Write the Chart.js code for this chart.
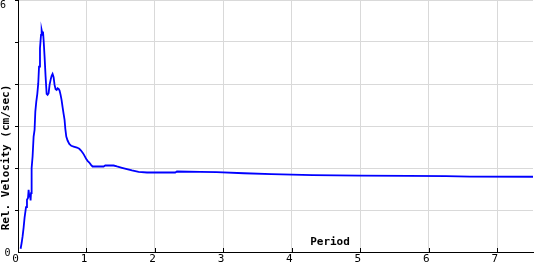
<!DOCTYPE html>
<html>
<head>
<meta charset="utf-8">
<script src="https://cdn.jsdelivr.net/npm/chart.js@4.4.1/dist/chart.umd.min.js"></script>
<style>
body { margin: 0; background: #fff; }
</style>
</head>
<body>
<canvas id="mycanvas" width="540" height="270"></canvas>
<script>
// period (sec) and relative velocity (cm/sec)
var period = [0.038, 0.053, 0.067, 0.082, 0.096, 0.117, 0.131, 0.146, 0.155, 0.165, 0.175, 0.184, 0.190,
	0.199, 0.213, 0.228, 0.242, 0.253, 0.267, 0.282, 0.296, 0.307, 0.321, 0.336, 0.345, 0.355, 0.365,
	0.374, 0.388, 0.403, 0.418, 0.432, 0.447, 0.461, 0.476, 0.491, 0.505, 0.520, 0.534, 0.549, 0.564,
	0.578, 0.593, 0.607, 0.622, 0.636, 0.651, 0.666, 0.680, 0.691, 0.705, 0.724, 0.749, 0.778, 0.812,
	0.861, 0.895, 0.920, 0.949, 0.972, 0.997, 1.016, 1.041, 1.066, 1.089, 1.250, 1.274, 1.396, 1.445,
	1.518, 1.591, 1.664, 1.761, 1.883, 2.296, 2.321, 2.661, 2.900, 3.300, 3.700, 4.300, 5.000, 5.700,
	6.250, 6.600, 7.520];
var velocity = [0.078, 0.214, 0.371, 0.578, 0.816, 1.070, 1.244, 1.284, 1.482, 1.322, 1.386, 1.227, 1.403,
	1.998, 2.273, 2.749, 2.908, 3.344, 3.581, 3.765, 4.019, 4.414, 4.851, 5.168, 5.287, 5.208, 5.246,
	5.049, 4.652, 4.176, 3.765, 3.741, 3.781, 3.979, 4.098, 4.193, 4.240, 4.162, 3.979, 3.876, 3.860,
	3.900, 3.884, 3.843, 3.741, 3.622, 3.448, 3.289, 3.146, 2.932, 2.749, 2.654, 2.575, 2.528, 2.511,
	2.487, 2.457, 2.416, 2.354, 2.290, 2.212, 2.171, 2.131, 2.076, 2.036, 2.036, 2.059, 2.059, 2.036,
	2.005, 1.974, 1.941, 1.910, 1.893, 1.893, 1.917, 1.910, 1.900, 1.875, 1.852, 1.828, 1.817, 1.812,
	1.805, 1.795, 1.792];
var xTicks = [0, 1, 2, 3, 4, 5, 6, 7];
var yTicks = [0, 1, 2, 3, 4, 5, 6];
var yLabels = [0, 6];

var points = [];
for (var i in period) {
	points.push({x: period[i], y: velocity[i]});
}

var monoFont = "'DejaVu Sans Mono', 'Liberation Mono', monospace";

// axis titles, tick labels and the short tick marks
var extras = {
	id: 'extras',
	afterDraw: function(chart) {
		var c = chart.ctx;
		var xs = chart.scales.x, ys = chart.scales.y;
		var area = chart.chartArea;
		c.save();
		c.strokeStyle = '#000';
		c.lineWidth = 1;
		c.beginPath();
		for (var k = 1; k < xTicks.length; k++) {
			var px = Math.round(xs.getPixelForValue(xTicks[k])) + 0.5;
			c.moveTo(px, area.bottom - 4);
			c.lineTo(px, area.bottom);
		}
		for (var v = 1; v < yTicks.length; v++) {
			var py = Math.round(ys.getPixelForValue(yTicks[v])) + 0.5;
			c.moveTo(area.left - 3, py);
			c.lineTo(area.left, py);
		}
		c.stroke();

		c.fillStyle = '#000';
		c.textAlign = 'center';
		c.textBaseline = 'middle';
		c.font = '11px ' + monoFont;
		for (var j = 0; j < xTicks.length; j++) {
			c.fillText(String(xTicks[j]), xs.getPixelForValue(xTicks[j]) - 2.5, 259.5);
		}
		c.font = '10px ' + monoFont;
		c.fillText(String(yLabels[1]), 3, 5);
		c.fillText(String(yLabels[0]), 7.5, 253);

		c.font = 'bold 11px ' + monoFont;
		c.fillText('Period', 330, 242.5);
		c.translate(6, 157.5);
		c.rotate(-Math.PI / 2);
		c.fillText('Rel. Velocity (cm/sec)', 0, 0);
		c.restore();
	}
};

var ctx = document.getElementById('mycanvas');

var LineGraph = new Chart(ctx, {
	type: 'line',
	data: {
		datasets: [
			{
				data: points,
				borderColor: '#0000ff',
				borderWidth: 1.8,
				pointRadius: 0,
				tension: 0,
				fill: false
			}
		]
	},
	options: {
		responsive: false,
		animation: false,
		layout: {padding: {top: 0, right: 7, left: 0, bottom: 0}},
		plugins: {legend: {display: false}, tooltip: {enabled: false}},
		scales: {
			x: {
				type: 'linear',
				min: 0,
				max: 7.52,
				afterBuildTicks: function(scale) {
					scale.ticks = xTicks.map(function(t) { return {value: t}; });
				},
				afterFit: function(scale) { scale.height = 18; },
				grid: {color: '#d9d9d9', drawTicks: false},
				border: {color: '#000', width: 1},
				ticks: {display: false}
			},
			y: {
				type: 'linear',
				min: 0,
				max: 6,
				afterBuildTicks: function(scale) {
					scale.ticks = yTicks.map(function(t) { return {value: t}; });
				},
				afterFit: function(scale) { scale.width = 18; },
				grid: {color: '#d9d9d9', drawTicks: false},
				border: {color: '#000', width: 1},
				ticks: {display: false}
			}
		}
	},
	plugins: [extras]
});
</script>
</body>
</html>
